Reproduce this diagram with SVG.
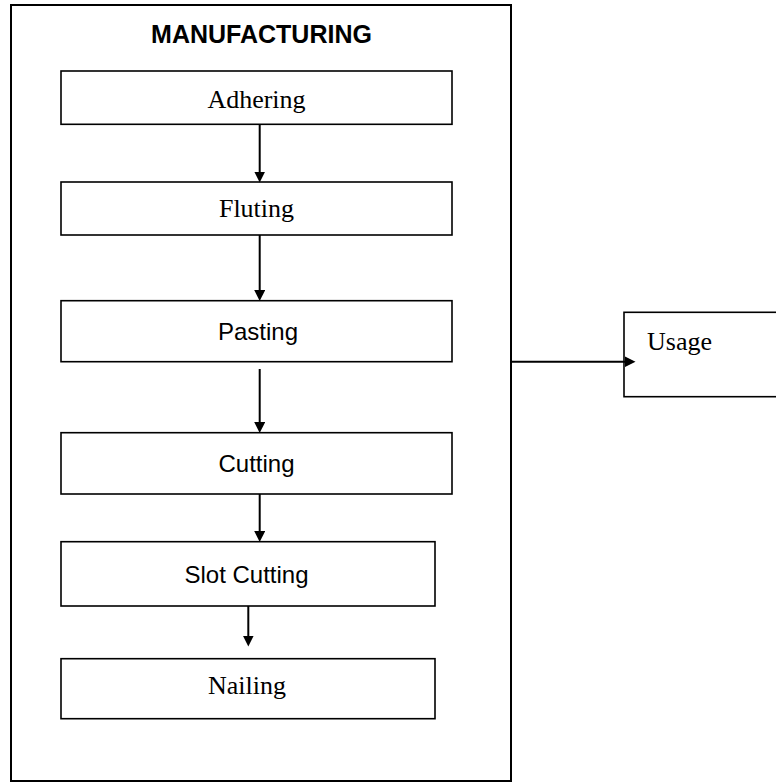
<svg xmlns="http://www.w3.org/2000/svg" width="776" height="782" viewBox="0 0 776 782">
<style>
.box{fill:#fff;stroke:#000;stroke-width:1.6}
.outer{fill:#fff;stroke:#000;stroke-width:2}
.serif{font-family:"Liberation Serif","Times New Roman",serif;font-size:26px;fill:#000}
.sans{font-family:"Liberation Sans",Arial,sans-serif;font-size:24px;fill:#000}
.title{font-family:"Liberation Sans",Arial,sans-serif;font-size:25px;font-weight:bold;fill:#000}
.conn{stroke:#000;stroke-width:2;fill:none;marker-end:url(#arr)}
</style>
<defs>
<marker id="arr" markerUnits="userSpaceOnUse" markerWidth="11" markerHeight="11" refX="5" refY="5" orient="auto" viewBox="0 0 10 10">
<path d="M0,0 L10,5 L0,10 z" fill="#000"/>
</marker>
</defs>
<rect width="776" height="782" fill="#fff"/>
<g id="manufacturing">
<rect class="outer" x="11" y="5" width="500" height="776"/>
<text class="title" x="261.5" y="43" text-anchor="middle">MANUFACTURING</text>
</g>
<g id="adhering">
<rect class="box" x="61" y="71" width="391" height="53.3"/>
<text class="serif" x="256.5" y="108" text-anchor="middle">Adhering</text>
</g>
<g id="fluting">
<rect class="box" x="61" y="182" width="391" height="53"/>
<text class="serif" x="256.5" y="217" text-anchor="middle">Fluting</text>
</g>
<g id="pasting">
<rect class="box" x="61" y="300.7" width="391" height="61"/>
<text class="sans" x="258" y="340" text-anchor="middle">Pasting</text>
</g>
<g id="cutting">
<rect class="box" x="61" y="432.7" width="391" height="61.3"/>
<text class="sans" x="256.5" y="471.7" text-anchor="middle">Cutting</text>
</g>
<g id="slot-cutting">
<rect class="box" x="61" y="541.7" width="374" height="64.3"/>
<text class="sans" x="246.5" y="582.7" text-anchor="middle">Slot Cutting</text>
</g>
<g id="nailing">
<rect class="box" x="61" y="658.7" width="374" height="60"/>
<text class="serif" x="247" y="694" text-anchor="middle">Nailing</text>
</g>
<g id="usage">
<rect class="box" x="624" y="312.3" width="200" height="84.4"/>
<text class="serif" x="647" y="350">Usage</text>
</g>
<g id="connectors">
<line class="conn" x1="259.7" y1="124.5" x2="259.7" y2="177"/>
<line class="conn" x1="259.7" y1="235" x2="259.7" y2="295.5"/>
<line class="conn" x1="259.7" y1="369" x2="259.7" y2="427.5"/>
<line class="conn" x1="259.7" y1="494" x2="259.7" y2="536.5"/>
<line class="conn" x1="248.3" y1="606" x2="248.3" y2="641"/>
<line class="conn" x1="511" y1="361.7" x2="630" y2="361.7"/>
</g>
</svg>
